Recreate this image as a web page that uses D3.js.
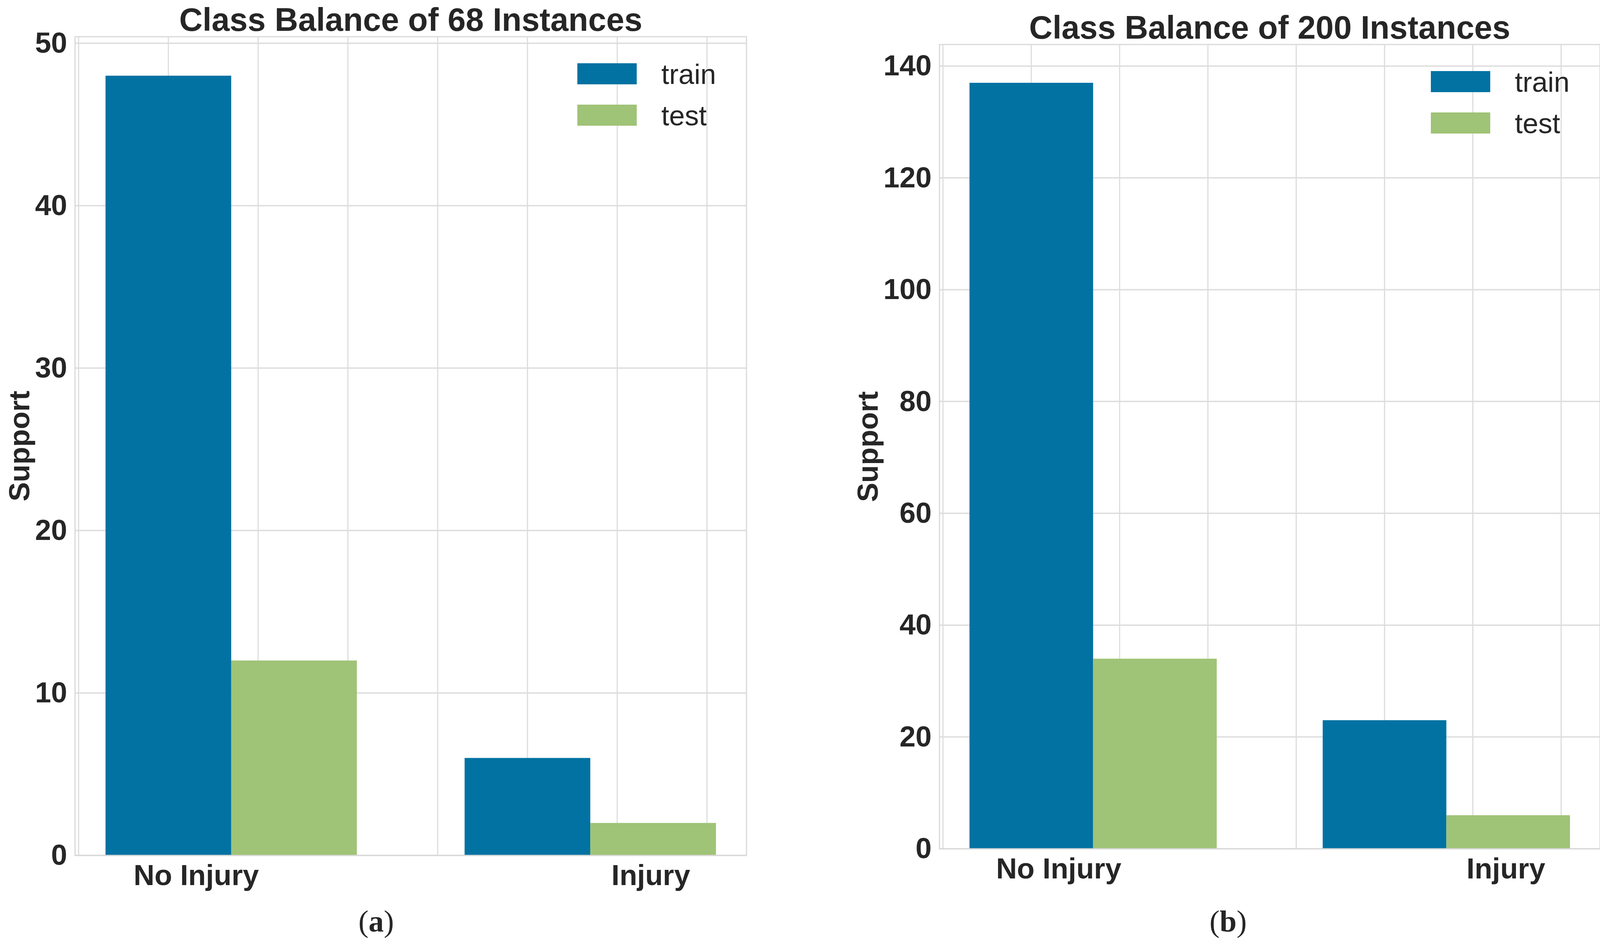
<!DOCTYPE html>
<html>
<head>
<meta charset="utf-8">
<script src="https://cdn.jsdelivr.net/npm/d3@7"></script>
<style>
  body { margin: 0; background: #fff; }
  text { fill: #262626; font-family: "Liberation Sans", Arial, sans-serif; }
  .axis path, .axis line { display: none; }
</style>
</head>
<body>
<svg id="chart" width="4125" height="2423"></svg>
<script>
// data
const categories = ["No Injury", "Injury"];
const seriesNames = ["train", "test"];
const seriesColors = ["#0272a2", "#9fc377"];

const trainA = [48, 6];
const testA = [12, 2];
const trainB = [137, 23];
const testB = [34, 6];

const yTicksA = [0, 10, 20, 30, 40, 50];
const yTicksB = [0, 20, 40, 60, 80, 100, 120, 140];
const xGridTicks = [-0.25, 0, 0.25, 0.5, 0.75, 1, 1.25, 1.5];
const xLabelPos = [0.077, 1.343];

const barWidth = 0.35;

const svg = d3.select("#chart");
svg.append("rect").attr("width", 4125).attr("height", 2423).attr("fill", "#fff");

function drawPanel(box, train, test, yTicks, title, caption, captionX) {
  const w = box.right - box.left, h = box.bottom - box.top;
  const g = svg.append("g").attr("transform", `translate(${box.left},${box.top})`);

  const maxV = d3.max(train.concat(test));
  const x = d3.scaleLinear().domain([-0.26, 1.61]).range([0, w]);
  const y = d3.scaleLinear().domain([0, maxV * 1.05]).range([h, 0]);

  // grid
  g.append("g").selectAll("line").data(xGridTicks).enter().append("line")
    .attr("x1", d => x(d)).attr("x2", d => x(d))
    .attr("y1", 0).attr("y2", h)
    .attr("stroke", "#dddddd").attr("stroke-width", 3);
  g.append("g").selectAll("line").data(yTicks).enter().append("line")
    .attr("x1", 0).attr("x2", w)
    .attr("y1", d => y(d)).attr("y2", d => y(d))
    .attr("stroke", "#dddddd").attr("stroke-width", 3.5);

  // bars
  [train, test].forEach((vals, s) => {
    g.append("g").selectAll("rect").data(vals).enter().append("rect")
      .attr("x", (d, i) => x(i + s * barWidth - barWidth / 2))
      .attr("width", x(barWidth) - x(0))
      .attr("y", d => y(d))
      .attr("height", d => h - y(d))
      .attr("fill", seriesColors[s]);
  });

  // frame
  g.append("rect").attr("width", w).attr("height", h)
    .attr("fill", "none").attr("stroke", "#d9d9d9").attr("stroke-width", 3);

  // axes
  const yAxis = g.append("g").attr("class", "axis")
    .call(d3.axisLeft(y).tickValues(yTicks).tickSize(0).tickPadding(20));
  yAxis.selectAll("text")
    .style("font-size", "74px").style("font-weight", "bold");

  g.append("g").attr("class", "axis")
    .attr("transform", `translate(0,${h})`)
    .call(d3.axisBottom(x).tickValues(xLabelPos).tickSize(0).tickPadding(23)
      .tickFormat((d, i) => categories[i]))
    .selectAll("text")
    .style("font-size", "74px").style("font-weight", "bold");

  yAxis.select(".domain").remove();
  const bb = yAxis.node().getBBox();
  g.append("text")
    .attr("transform", `translate(${bb.x - 15},${h / 2}) rotate(-90)`)
    .attr("text-anchor", "middle")
    .style("font-size", "74px").style("font-weight", "bold")
    .text("Support");

  g.append("text")
    .attr("x", w / 2).attr("y", -15)
    .attr("text-anchor", "middle")
    .style("font-size", "83px").style("font-weight", "bold")
    .text(title);

  // legend
  const leg = g.append("g").attr("transform", `translate(${w - 433},68)`);
  seriesNames.forEach((name, i) => {
    leg.append("rect").attr("x", 0).attr("y", i * 106)
      .attr("width", 152).attr("height", 54).attr("fill", seriesColors[i]);
    leg.append("text").attr("x", 215).attr("y", i * 106 + 53)
      .style("font-size", "72px").text(name);
  });

  // panel caption
  const cap = svg.append("text")
    .attr("x", captionX).attr("y", 2386)
    .attr("text-anchor", "middle")
    .style("font-family", "'Liberation Serif', 'Times New Roman', serif")
    .style("font-size", "78px");
  cap.append("tspan").text("(");
  cap.append("tspan").style("font-weight", "bold").text(caption);
  cap.append("tspan").text(")");
}

drawPanel({left: 192, right: 1911, top: 94, bottom: 2191}, trainA, testA, yTicksA,
  "Class Balance of 68 Instances", "a", 963);
drawPanel({left: 2405, right: 4096, top: 114, bottom: 2174}, trainB, testB, yTicksB,
  "Class Balance of 200 Instances", "b", 3144);
</script>
</body>
</html>
